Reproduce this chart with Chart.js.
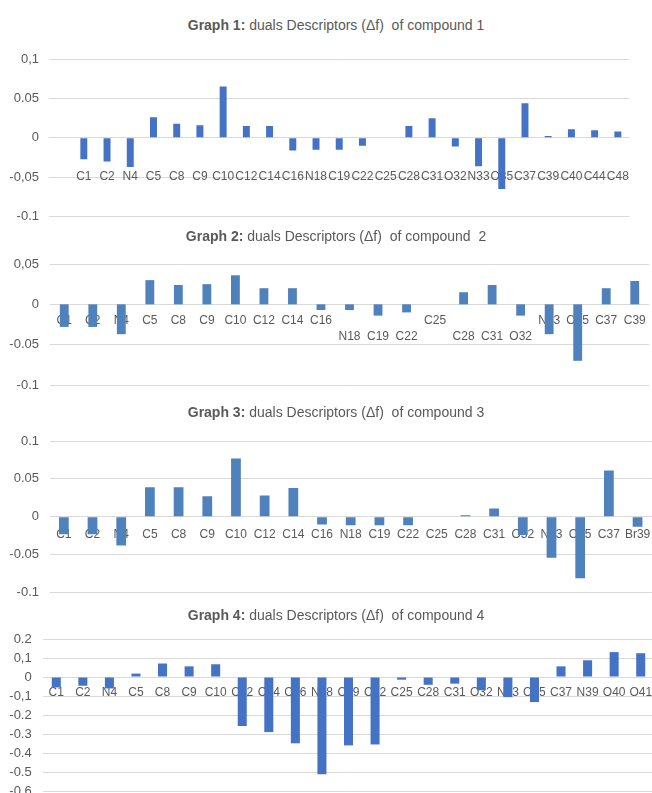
<!DOCTYPE html>
<html>
<head>
<meta charset="utf-8">
<script src="https://cdn.jsdelivr.net/npm/chart.js@4.4.1/dist/chart.umd.min.js"></script>
<style>
  html, body { margin: 0; padding: 0; background: #fff; overflow: hidden; }
  #page { position: relative; width: 652px; height: 793px; overflow: hidden; }
  .box { position: absolute; left: 0; }
  .title {
    position: absolute; width: 420px; text-align: center; white-space: pre;
    font-family: "Liberation Sans Narrow", "Arial Narrow", sans-serif;
    font-size: 14px; line-height: 18px; color: #595959;
  }
  .title b { font-weight: bold; }
</style>
</head>
<body>
<div id="page"></div>
<script>
// graph 1
const g1Labels = ['', 'C1', 'C2', 'N4', 'C5', 'C8', 'C9', 'C10', 'C12', 'C14', 'C16', 'N18', 'C19', 'C22', 'C25', 'C28', 'C31', 'O32', 'N33', 'O35', 'C37', 'C39', 'C40', 'C44', 'C48'];
const g1Values = [null, -0.027, -0.030, -0.037, 0.026, 0.018, 0.016, 0.065, 0.015, 0.015, -0.016, -0.015, -0.015, -0.010, 0, 0.015, 0.025, -0.011, -0.036, -0.065, 0.044, 0.0025, 0.011, 0.0095, 0.008];
const g1Ticks = ['0,1', '0.05', '0', '-0,05', '-0.1'];

// graph 2
const g2Labels = ['C1', 'C2', 'N4', 'C5', 'C8', 'C9', 'C10', 'C12', 'C14', 'C16', 'N18', 'C19', 'C22', 'C25', 'C28', 'C31', 'O32', 'N33', 'O35', 'C37', 'C39'];
const g2Values = [-0.028, -0.028, -0.037, 0.030, 0.024, 0.025, 0.036, 0.020, 0.020, -0.007, -0.007, -0.014, -0.010, 0, 0.015, 0.024, -0.014, -0.037, -0.070, 0.020, 0.029];
const g2Lowered = ['N18', 'C19', 'C22', 'C28', 'C31', 'O32'];
const g2Ticks = ['0,05', '0', '-0.05', '-0.1'];

// graph 3
const g3Labels = ['C1', 'C2', 'N4', 'C5', 'C8', 'C9', 'C10', 'C12', 'C14', 'C16', 'N18', 'C19', 'C22', 'C25', 'C28', 'C31', 'O32', 'N33', 'O35', 'C37', 'Br39'];
const g3Values = [-0.023, -0.023, -0.038, 0.039, 0.039, 0.027, 0.077, 0.028, 0.038, -0.010, -0.011, -0.011, -0.011, 0, 0.002, 0.011, -0.024, -0.054, -0.081, 0.061, -0.013];
const g3Ticks = ['0.1', '0.05', '0', '-0.05', '-0.1'];

// graph 4
const g4Labels = ['C1', 'C2', 'N4', 'C5', 'C8', 'C9', 'C10', 'C12', 'C14', 'C16', 'N18', 'C19', 'C22', 'C25', 'C28', 'C31', 'O32', 'N33', 'O35', 'C37', 'N39', 'O40', 'O41'];
const g4Values = [-0.055, -0.046, -0.060, 0.018, 0.071, 0.056, 0.067, -0.258, -0.290, -0.349, -0.512, -0.360, -0.355, -0.014, -0.041, -0.035, -0.070, -0.106, -0.132, 0.056, 0.088, 0.131, 0.125];
const g4Ticks = ['0.2', '0,1', '0', '-0,1', '-0.2', '-0.3', '-0.4', '-0.5', '-0.6'];

const textColor = '#595959';
const font = '"Liberation Sans Narrow", "Arial Narrow", sans-serif';
const PAD = 20;
const page = document.getElementById('page');

const graphs = [
  { n: 1, rest: ' duals Descriptors (Δf)  of compound 1', titleY: 25, labels: g1Labels, values: g1Values, ticks: g1Ticks,
    min: -0.1, max: 0.1, step: 0.05, top: 59, bottom: 216.7, left: 49, right: 653, yPad: 10, xPad: 31, bar: 0.3, color: '#4472C4' },
  { n: 2, rest: ' duals Descriptors (Δf)  of compound  2', titleY: 236, labels: g2Labels, values: g2Values, ticks: g2Ticks, lowered: g2Lowered,
    min: -0.1, max: 0.05, step: 0.05, top: 264, bottom: 385, left: 50, right: 649, yPad: 11, xPad: 8, bar: 0.31, color: '#4F81BD' },
  { n: 3, rest: ' duals Descriptors (Δf)  of compound 3', titleY: 412, labels: g3Labels, values: g3Values, ticks: g3Ticks,
    min: -0.1, max: 0.1, step: 0.05, top: 440.7, bottom: 592.3, left: 49.5, right: 653, yPad: 10.5, xPad: 9.6, bar: 0.34, color: '#4F81BD' },
  { n: 4, rest: ' duals Descriptors (Δf)  of compound 4', titleY: 615, labels: g4Labels, values: g4Values, ticks: g4Ticks,
    min: -0.6, max: 0.2, step: 0.1, top: 639, bottom: 791, left: 43, right: 654, yPad: 11.3, xPad: 7.6, bar: 0.34, color: '#4472C4' }
];

const W = 660;

graphs.forEach(g => {
  const box = document.createElement('div');
  box.className = 'box';
  const h = Math.round(g.bottom - g.top) + 2 * PAD;
  box.style.top = (g.top - PAD) + 'px';
  const canvas = document.createElement('canvas');
  canvas.width = W;
  canvas.height = h;
  box.appendChild(canvas);
  page.appendChild(box);

  const title = document.createElement('div');
  title.className = 'title';
  title.style.left = (336 - 210) + 'px';
  title.style.top = (g.titleY - 9) + 'px';
  const b = document.createElement('b');
  b.textContent = 'Graph ' + g.n + ':';
  title.appendChild(b);
  title.appendChild(document.createTextNode(g.rest));
  page.appendChild(title);

  const lowered = g.lowered || [];

  new Chart(canvas, {
    type: 'bar',
    data: {
      labels: g.labels,
      datasets: [{
        data: g.values,
        backgroundColor: g.color,
        barPercentage: g.bar,
        categoryPercentage: 1
      }]
    },
    options: {
      responsive: false,
      animation: false,
      events: [],
      layout: { padding: { left: 0, right: W - g.right, top: PAD, bottom: h - PAD - (g.bottom - g.top) } },
      plugins: { legend: { display: false }, tooltip: { enabled: false } },
      scales: {
        x: {
          position: { y: 0 },
          z: 1,
          grid: { display: false, drawTicks: false },
          border: { display: false },
          ticks: {
            color: textColor,
            font: { family: font, size: 12, lineHeight: 1.333 },
            padding: g.xPad,
            autoSkip: false, maxRotation: 0, minRotation: 0,
            callback: function(value, index) {
              const lab = this.getLabelForValue(value);
              return lowered.includes(lab) ? ['', lab] : lab;
            }
          }
        },
        y: {
          min: g.min, max: g.max,
          afterFit: scale => { scale.width = g.left; },
          grid: { color: '#D9D9D9', lineWidth: 1, drawTicks: false },
          border: { display: false },
          ticks: {
            stepSize: g.step,
            color: textColor,
            font: { family: font, size: 13 },
            padding: g.yPad,
            callback: value => g.ticks[Math.round((g.max - value) / g.step)]
          }
        }
      }
    }
  });
});
</script>
</body>
</html>
